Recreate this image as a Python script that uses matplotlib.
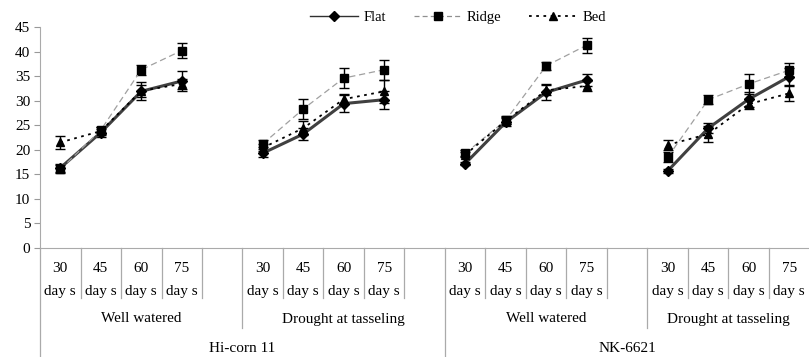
import numpy as np
import matplotlib
matplotlib.use("Agg")
from matplotlib import pyplot as plt
from matplotlib.lines import Line2D

plt.rcParams['font.family'] = ['Liberation Serif', 'DejaVu Serif']

# 19 slots: 4 groups of days with empty gap slots between them
nan = np.nan
day_nums = ["30", "45", "60", "75"]
cat_labels = day_nums + [""] + day_nums + [""] + day_nums + [""] + day_nums
groups = ["Well watered", "Drought at tasseling", "Well watered", "Drought at tasseling"]
varieties = ["Hi-corn 11", "NK-6621"]

flat = [16.3, 23.5, 31.9, 34.0, nan, 19.3, 23.2, 29.4, 30.2, nan,
        17.2, 25.6, 31.7, 34.2, nan, 15.7, 24.4, 30.3, 34.9]
ridge = [16.0, 24.0, 36.3, 40.2, nan, 21.2, 28.3, 34.6, 36.3, nan,
         19.3, 26.0, 37.1, 41.3, nan, 18.5, 30.2, 33.4, 36.2]
bed = [21.5, 23.8, 32.0, 33.4, nan, 20.4, 24.4, 30.3, 31.9, nan,
       19.0, 25.9, 32.1, 33.0, nan, 21.0, 23.2, 29.3, 31.5]

flat_err = [0.9, 0.8, 1.8, 2.0, nan, 0.8, 1.2, 1.8, 1.8, nan,
            0.4, 0.8, 1.6, 1.2, nan, 0.4, 1.0, 1.5, 1.8]
ridge_err = [0.8, 0.7, 1.0, 1.6, nan, 0.7, 2.0, 2.1, 2.0, nan,
             0.6, 0.8, 0.8, 1.5, nan, 1.0, 0.9, 2.0, 1.4]
bed_err = [1.3, 0.8, 1.2, 1.0, nan, 0.7, 1.4, 1.0, 2.4, nan,
           0.5, 0.7, 1.0, 1.0, nan, 1.0, 1.6, 1.0, 1.5]

x = np.arange(len(cat_labels))

fig = plt.figure(figsize=(8.09, 3.57), dpi=100)
ax = fig.add_axes([40 / 809, (357 - 248) / 357, 769.5 / 809, 221 / 357])

ax.errorbar(x, flat, yerr=flat_err, color='#404040', lw=2.2, marker='D', ms=5,
            mfc='black', mec='black', ecolor='black', elinewidth=1, capsize=3.5,
            zorder=3)
ax.errorbar(x, ridge, yerr=ridge_err, color='#a0a0a0', lw=0.9, ls=(0, (5, 3)),
            marker='s', ms=6, mfc='black', mec='black', ecolor='black',
            elinewidth=1, capsize=3.5, zorder=3)
ax.errorbar(x, bed, yerr=bed_err, color='black', lw=1.3, ls=(0, (1.5, 2.5)),
            marker='^', ms=6, mfc='black', mec='black', ecolor='black',
            elinewidth=1, capsize=3.5, zorder=3)

ax.set_xlim(-0.5, 18.5)
ax.set_ylim(0, 45)
ax.set_yticks(range(0, 46, 5))
ax.tick_params(axis='y', labelsize=11, length=4, color='#999999', pad=3)
ax.set_xticks([])
for s in ['top', 'right']:
    ax.spines[s].set_visible(False)
ax.spines['left'].set_color('#aaaaaa')
ax.spines['bottom'].set_color('#aaaaaa')

# multi-level category axis
tr = ax.get_xaxis_transform()
line_kw = dict(color='#aaaaaa', lw=0.9, transform=tr, clip_on=False)
for b in np.arange(0.5, 18.5, 1.0):
    if b in (4.5, 14.5):
        ax.plot([b, b], [0, -80 / 221], **line_kw)
    elif b == 9.5:
        ax.plot([b, b], [0, -109 / 221], **line_kw)
    else:
        ax.plot([b, b], [0, -50 / 221], **line_kw)
ax.plot([-0.5, -0.5], [0, -109 / 221], **line_kw)

for i, lab in enumerate(cat_labels):
    if lab:
        ax.text(i, -20 / 221, lab, transform=tr, ha='center', va='center', fontsize=11)
        ax.text(i, -44 / 221, "day s", transform=tr, ha='center', va='center', fontsize=11)

for c, g in zip([2, 7, 12, 16.5], groups):
    ax.text(c, -71 / 221, g, transform=tr, ha='center', va='center', fontsize=11)
for c, v in zip([4.5, 14], varieties):
    ax.text(c, -100 / 221, v, transform=tr, ha='center', va='center', fontsize=11)

handles = [
    Line2D([], [], color='#303030', lw=1.0, marker='D', ms=5, mfc='black', mec='black'),
    Line2D([], [], color='#909090', lw=0.9, ls=(0, (4, 2.5)), marker='s', ms=6,
           mfc='black', mec='black'),
    Line2D([], [], color='black', lw=1.3, ls=(0, (1.5, 2.5)), marker='^', ms=6,
           mfc='black', mec='black'),
]
fig.legend(handles, ['Flat', 'Ridge', 'Bed'], loc='center',
           bbox_to_anchor=(458 / 809, 1 - 17 / 357), ncol=3, frameon=False,
           fontsize=10.5, handlelength=3.3, columnspacing=1.9, handletextpad=0.35)

fig.savefig("out.png", dpi=100)
